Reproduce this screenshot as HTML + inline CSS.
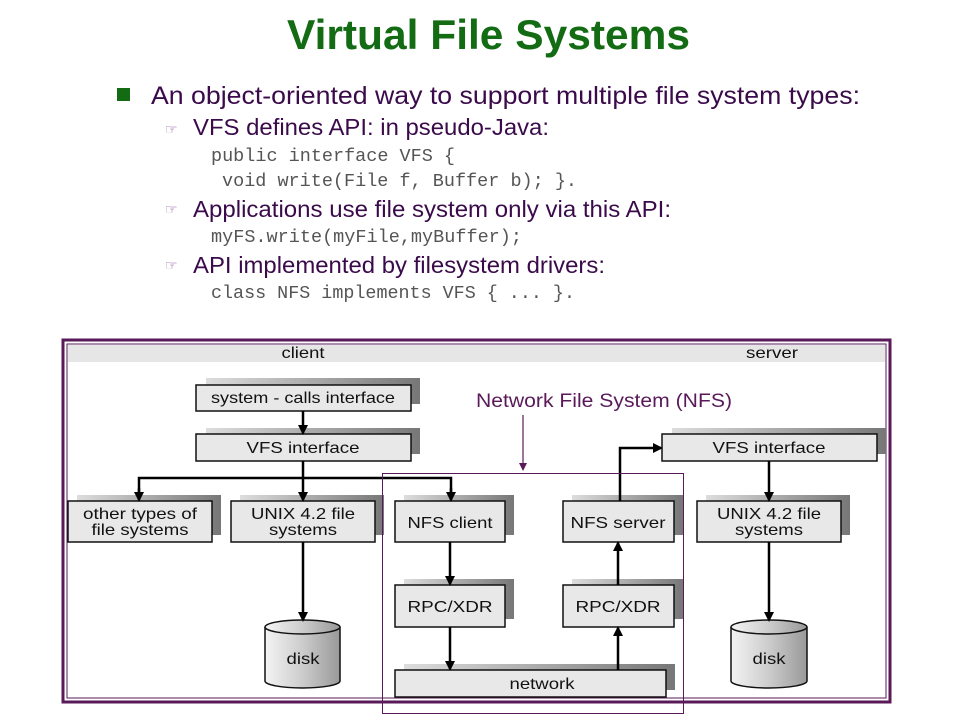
<!DOCTYPE html>
<html><head><meta charset="utf-8"><style>
body{margin:0;background:#fff;}
svg{display:block;}
.s{font-family:"Liberation Sans",sans-serif;}
.m{font-family:"Liberation Mono",monospace;fill:#555;font-size:18px;}
.p{fill:#3a0a4a;font-size:25px;}
.q{fill:#3a0a4a;font-size:23px;}
.b{font-family:"Liberation Sans",sans-serif;font-size:16px;fill:#111;text-anchor:middle;}
</style></head><body>
<svg width="960" height="720" viewBox="0 0 960 720" xmlns="http://www.w3.org/2000/svg">
<defs>
<linearGradient id="sh" x1="0" x2="1"><stop offset="0" stop-color="#ddd"/><stop offset="1" stop-color="#777"/></linearGradient>
<linearGradient id="cy" x1="0" x2="1"><stop offset="0" stop-color="#f4f4f4"/><stop offset="0.5" stop-color="#ccc"/><stop offset="1" stop-color="#999"/></linearGradient>
<marker id="a" markerWidth="10" markerHeight="10" refX="8" refY="5" orient="auto" markerUnits="userSpaceOnUse"><path d="M0,0 L10,5 L0,10 z" fill="#000"/></marker>
<marker id="pa" markerWidth="8" markerHeight="8" refX="7" refY="4" orient="auto" markerUnits="userSpaceOnUse"><path d="M0,0 L8,4 L0,8 z" fill="#5a1a5a"/></marker>
</defs>
<text x="287" y="49" class="s" font-size="42" font-weight="bold" fill="#136b13" textLength="403" lengthAdjust="spacingAndGlyphs">Virtual File Systems</text>
<rect x="117" y="88" width="13" height="13" fill="#136b13"/>
<text x="151" y="104" class="s p" textLength="709" lengthAdjust="spacingAndGlyphs">An object-oriented way to support multiple file system types:</text>
<text x="165" y="134" class="s" font-size="14" fill="#9a6aa8">☞</text>
<text x="193" y="135" class="s q" textLength="356" lengthAdjust="spacingAndGlyphs">VFS defines API: in pseudo-Java:</text>
<text x="211" y="161" class="m" textLength="244" lengthAdjust="spacingAndGlyphs">public interface VFS {</text>
<text x="222" y="186" class="m" textLength="355" lengthAdjust="spacingAndGlyphs">void write(File f, Buffer b); }.</text>
<text x="165" y="214" class="s" font-size="14" fill="#9a6aa8">☞</text>
<text x="193" y="217" class="s q" textLength="478" lengthAdjust="spacingAndGlyphs">Applications use file system only via this API:</text>
<text x="211" y="242" class="m" textLength="311" lengthAdjust="spacingAndGlyphs">myFS.write(myFile,myBuffer);</text>
<text x="165" y="270" class="s" font-size="14" fill="#9a6aa8">☞</text>
<text x="193" y="273" class="s q" textLength="412" lengthAdjust="spacingAndGlyphs">API implemented by filesystem drivers:</text>
<text x="211" y="298" class="m" textLength="364" lengthAdjust="spacingAndGlyphs">class NFS implements VFS { ... }.</text>

<rect x="63" y="340" width="827" height="362" fill="#fff" stroke="#5a1a5a" stroke-width="3"/>
<rect x="67" y="344" width="819" height="354" fill="none" stroke="#5a1a5a" stroke-width="1"/>
<rect x="68" y="345" width="817" height="17" fill="#e6e6e6"/>
<text x="303" y="358" class="b" font-size="14.5" textLength="43" lengthAdjust="spacingAndGlyphs">client</text>
<text x="772" y="358" class="b" font-size="14.5" textLength="52" lengthAdjust="spacingAndGlyphs">server</text>

<g stroke="#111" stroke-width="1.5">
<rect x="206" y="378" width="214" height="26" fill="url(#sh)" stroke="none"/>
<rect x="196" y="385" width="215" height="26" fill="#e8e8e8"/>
<rect x="206" y="428" width="214" height="26" fill="url(#sh)" stroke="none"/>
<rect x="196" y="434" width="215" height="27" fill="#e8e8e8"/>
<rect x="77" y="495" width="144" height="40" fill="url(#sh)" stroke="none"/>
<rect x="68" y="501" width="144" height="41" fill="#e8e8e8"/>
<rect x="240" y="495" width="144" height="40" fill="url(#sh)" stroke="none"/>
<rect x="231" y="501" width="144" height="41" fill="#e8e8e8"/>
<rect x="404" y="495" width="110" height="40" fill="url(#sh)" stroke="none"/>
<rect x="395" y="501" width="110" height="41" fill="#e8e8e8"/>
<rect x="572" y="495" width="111" height="40" fill="url(#sh)" stroke="none"/>
<rect x="563" y="501" width="111" height="41" fill="#e8e8e8"/>
<rect x="404" y="579" width="110" height="40" fill="url(#sh)" stroke="none"/>
<rect x="395" y="585" width="110" height="42" fill="#e8e8e8"/>
<rect x="572" y="579" width="111" height="40" fill="url(#sh)" stroke="none"/>
<rect x="563" y="585" width="111" height="42" fill="#e8e8e8"/>
<rect x="404" y="664" width="271" height="26" fill="url(#sh)" stroke="none"/>
<rect x="395" y="670" width="271" height="27" fill="#e8e8e8"/>
<rect x="672" y="428" width="214" height="26" fill="url(#sh)" stroke="none"/>
<rect x="662" y="434" width="215" height="27" fill="#e8e8e8"/>
<rect x="706" y="495" width="144" height="40" fill="url(#sh)" stroke="none"/>
<rect x="697" y="501" width="144" height="41" fill="#e8e8e8"/>
</g>
<g fill="url(#cy)" stroke="#111" stroke-width="1.5">
<path d="M265,627 V681 A37.5,7 0 0 0 340,681 V627"/>
<ellipse cx="302.5" cy="627" rx="37.5" ry="7"/>
<path d="M731,627 V681 A38,7 0 0 0 807,681 V627"/>
<ellipse cx="769" cy="627" rx="38" ry="7"/>
</g>
<text x="303" y="403" class="b" textLength="184" lengthAdjust="spacingAndGlyphs">system - calls interface</text>
<text x="303" y="453" class="b" textLength="113" lengthAdjust="spacingAndGlyphs">VFS interface</text>
<text x="140" y="519" class="b" textLength="114" lengthAdjust="spacingAndGlyphs">other types of</text>
<text x="140" y="535" class="b" textLength="97" lengthAdjust="spacingAndGlyphs">file systems</text>
<text x="303" y="519" class="b" textLength="104" lengthAdjust="spacingAndGlyphs">UNIX 4.2 file</text>
<text x="303" y="535" class="b" textLength="68" lengthAdjust="spacingAndGlyphs">systems</text>
<text x="450" y="528" class="b" textLength="85" lengthAdjust="spacingAndGlyphs">NFS client</text>
<text x="618" y="528" class="b" textLength="95" lengthAdjust="spacingAndGlyphs">NFS server</text>
<text x="450" y="612" class="b" textLength="85" lengthAdjust="spacingAndGlyphs">RPC/XDR</text>
<text x="618" y="612" class="b" textLength="85" lengthAdjust="spacingAndGlyphs">RPC/XDR</text>
<text x="542" y="689" class="b" textLength="65" lengthAdjust="spacingAndGlyphs">network</text>
<text x="769" y="453" class="b" textLength="113" lengthAdjust="spacingAndGlyphs">VFS interface</text>
<text x="769" y="519" class="b" textLength="104" lengthAdjust="spacingAndGlyphs">UNIX 4.2 file</text>
<text x="769" y="535" class="b" textLength="68" lengthAdjust="spacingAndGlyphs">systems</text>
<text x="303" y="664" class="b" textLength="33" lengthAdjust="spacingAndGlyphs">disk</text>
<text x="769" y="664" class="b" textLength="33" lengthAdjust="spacingAndGlyphs">disk</text>

<g stroke="#000" stroke-width="2.5" fill="none">
<line x1="303" y1="411" x2="303" y2="433" marker-end="url(#a)"/>
<line x1="303" y1="461" x2="303" y2="500" marker-end="url(#a)"/>
<polyline points="139,499 139,478 451,478 451,499"/>
<line x1="139" y1="488" x2="139" y2="500" marker-end="url(#a)"/>
<line x1="451" y1="488" x2="451" y2="500" marker-end="url(#a)"/>
<line x1="303" y1="542" x2="303" y2="620" marker-end="url(#a)"/>
<line x1="450" y1="542" x2="450" y2="584" marker-end="url(#a)"/>
<line x1="450" y1="627" x2="450" y2="669" marker-end="url(#a)"/>
<line x1="618" y1="670" x2="618" y2="628" marker-end="url(#a)"/>
<line x1="618" y1="585" x2="618" y2="543" marker-end="url(#a)"/>
<polyline points="620,501 620,448 661,448" marker-end="url(#a)"/>
<line x1="769" y1="461" x2="769" y2="500" marker-end="url(#a)"/>
<line x1="769" y1="542" x2="769" y2="620" marker-end="url(#a)"/>
</g>
<rect x="382.5" y="473.5" width="301" height="240" fill="none" stroke="#5a1a5a" stroke-width="1"/>
<text x="476" y="407" class="s" font-size="19" fill="#5a1a5a" textLength="256" lengthAdjust="spacingAndGlyphs">Network File System (NFS)</text>
<line x1="523" y1="415" x2="523" y2="470" stroke="#5a1a5a" stroke-width="1.2" marker-end="url(#pa)"/>
</svg>
</body></html>
